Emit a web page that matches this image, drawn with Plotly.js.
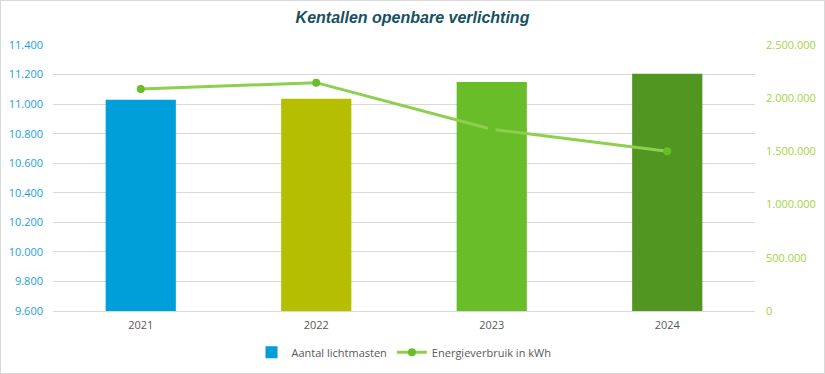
<!DOCTYPE html>
<html>
<head>
<meta charset="utf-8">
<script src="https://cdn.plot.ly/plotly-3.0.1.min.js"></script>
<style>
html,body{margin:0;padding:0;background:#fff;}
#chart{width:825px;height:374px;box-sizing:border-box;border:1px solid #D9D9D9;}
</style>
</head>
<body>
<div id="chart"></div>
<script>
const years = ['2021', '2022', '2023', '2024'];
const lichtmasten = [11029, 11036, 11150, 11205];
const energie = [2086000, 2146000, 1708000, 1501000];
const barColors = ['#009FDA', '#B5BF00', '#69BD28', '#509620'];

const traces = [
  {
    type: 'bar', name: 'Aantal lichtmasten', x: years, y: lichtmasten,
    marker: {color: barColors}, width: 0.4, yaxis: 'y', hoverinfo: 'x+y'
  },
  {
    type: 'scatter', mode: 'lines+markers', name: 'Energieverbruik in kWh',
    x: years, y: energie, yaxis: 'y2',
    line: {color: '#8CD04E', width: 3},
    marker: {color: '#69BD28', size: 8}
  }
];

const layout = {
  width: 823, height: 372,
  margin: {l: 52, r: 69, t: 44, b: 62, autoexpand: false},
  paper_bgcolor: '#fff', plot_bgcolor: '#fff',
  separators: ',.',
  showlegend: true,
  title: {
    text: '<b><i>Kentallen openbare verlichting</i></b>',
    font: {family: 'Liberation Sans, Arial', size: 16, color: '#17505F'},
    x: 0.5, xanchor: 'center', y: 0.955, yanchor: 'middle'
  },
  xaxis: {
    type: 'category', showgrid: false, zeroline: false,
    showline: true, linecolor: '#D9D9D9', linewidth: 1,
    ticks: '', tickfont: {family: 'Open Sans', size: 11, color: '#595959'},
    ticklabelstandoff: 4
  },
  yaxis: {
    range: [9600, 11400], dtick: 200, tick0: 9600, tickformat: ',d',
    showgrid: true, gridcolor: '#D9D9D9', gridwidth: 1, zeroline: false,
    showline: false, ticks: '',
    tickfont: {family: 'Open Sans', size: 11, color: '#1BA1E2'},
    ticklabelstandoff: 9
  },
  yaxis2: {
    overlaying: 'y', side: 'right',
    range: [0, 2500000], dtick: 500000, tickformat: ',d',
    showgrid: false, zeroline: false, showline: false, ticks: '',
    tickfont: {family: 'Open Sans', size: 11, color: '#A5D43B'},
    ticklabelstandoff: 10
  },
  legend: {
    orientation: 'h', x: 0.5, xanchor: 'center', y: -0.155, yanchor: 'middle',
    font: {family: 'Open Sans', size: 11, color: '#595959'},
    itemwidth: 30, tracegroupgap: 0
  }
};

Plotly.newPlot('chart', traces, layout, {displayModeBar: false, staticPlot: true});
</script>
</body>
</html>
